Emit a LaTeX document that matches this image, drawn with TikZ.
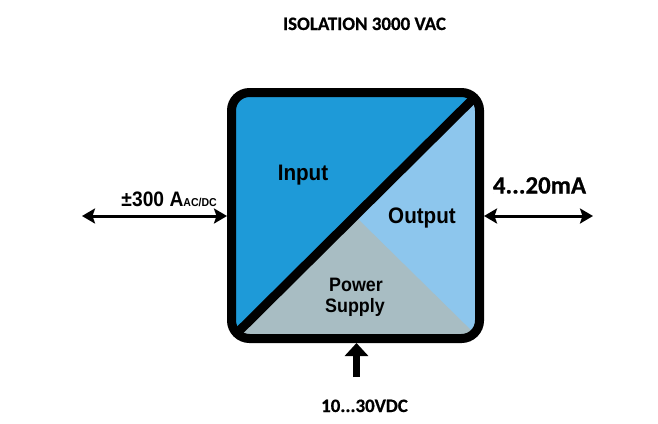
\documentclass[tikz,border=0pt]{standalone}
\usepackage{fontspec}
\usetikzlibrary{arrows.meta}
\newfontfamily\helv{Liberation Sans}[FakeStretch=0.92]
\newfontfamily\calib{Carlito}[FakeBold=0.6]
\definecolor{inblue}{RGB}{30,154,216}
\definecolor{outblue}{RGB}{141,198,237}
\definecolor{psgray}{RGB}{168,189,195}
\tikzset{
  boxshape/.style={rectangle, minimum width=248bp, minimum height=246bp, rounded corners=18bp, line width=9bp, inner sep=0pt},
  lbl/.style={anchor=base, inner sep=0pt, font=\helv\bfseries\fontsize{22.5}{24}\selectfont},
  pslbl/.style={anchor=base, inner sep=0pt, font=\helv\bfseries\fontsize{19.5}{21}\selectfont},
  cal/.style={anchor=base, inner sep=0pt, font=\calib\bfseries\fontsize{19}{21}\selectfont},
  arr/.style={line width=3bp, {Stealth[length=13bp,width=15bp,inset=2.5bp]}-{Stealth[length=13bp,width=15bp,inset=2.5bp]}},
  uparr/.style={line width=7bp, -{Triangle[length=13bp,width=23bp]}}
}
\begin{document}
\begin{tikzpicture}[x=1bp,y=-1bp]
\useasboundingbox (0,0) rectangle (658,423);
% fills
\begin{scope}
  \clip[rounded corners=18bp] (231.5,92.5) rectangle (479.5,338.5);
  \fill[inblue] (231.5,92.5) rectangle (479.5,338.5);
  \fill[outblue] (479.5,92.5) -- (479.5,338.5) -- (231.5,338.5) -- cycle;
  \fill[psgray] (231.5,338.5) -- (357.5,218.5) -- (479.5,338.5) -- cycle;
  \draw[line width=9bp] (231.5,338.5) -- (479.5,92.5);
\end{scope}
\node[boxshape, draw] (boxb) at (355.5,215.5) {};
% labels inside
\node[lbl] (inp) at (303,180) {Input};
\node[lbl] (outp) at (422,223) {Output};
\node[pslbl] (pw) at (356,291) {Power};
\node[pslbl] (sup) at (355,312.5) {Supply};
% title and outer labels
\node[cal] (title) at (364.5,30) {ISOLATION 3000 VAC};
\node[cal] (vdc) at (364.5,412) {10...30VDC};
\node[cal, font=\calib\bfseries\fontsize{25}{27}\selectfont] (ma) at (539.5,193.5) {4...20mA};
\node[anchor=base east, inner sep=0pt, font=\helv\bfseries\fontsize{21}{23}\selectfont] (amp) at (217,206.5) {±300 A{\fontsize{11.5}{12}\selectfont AC/DC}};
% connectors
\coordinate (L) at (82,216);
\coordinate (R) at (593,216);
\coordinate (P) at (356.5,377);
\draw[arr] (L) -- (boxb.west |- L);
\draw[arr] (boxb.east |- R) -- (R);
\draw[uparr] (P) -- (boxb.south -| P);
\end{tikzpicture}
\end{document}
